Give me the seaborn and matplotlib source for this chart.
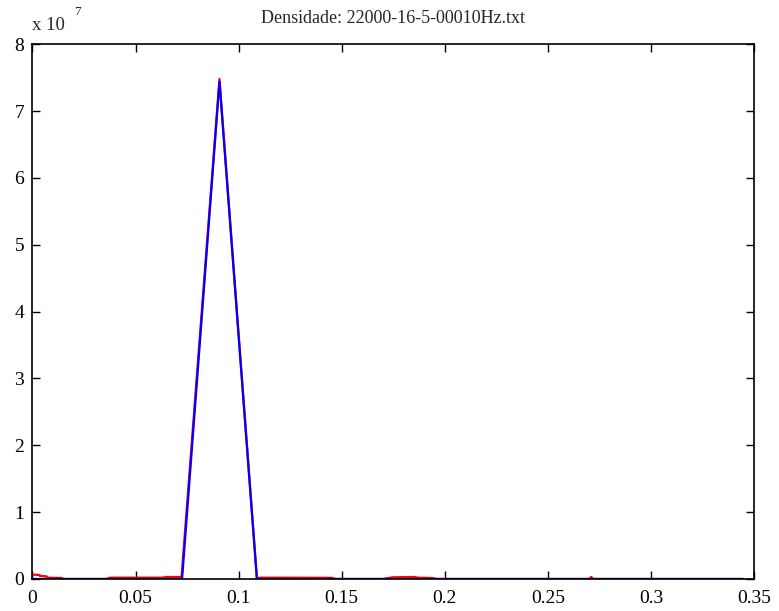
import numpy as np
import pandas as pd
import matplotlib
matplotlib.use("Agg")
import matplotlib.pyplot as plt
import seaborn as sns

# Spectral density of the signal (blue: coarse estimate, red: detailed estimate)
blue_step = 0.01814
blue_x = [blue_step * k for k in range(20)]
blue_y = [0, 0, 0, 0, 0, 7.44e7, 0, 0, 0, 0, 0, 0, 0, 0, 0, 0, 0, 0, 0, 0]

red_x = [0.0, 0.0034, 0.0036, 0.0068, 0.0070, 0.0141, 0.0150, 0.0360, 0.0375,
         0.0630, 0.0650, 0.0723, 0.0907, 0.1089, 0.1100, 0.1450, 0.1470,
         0.1700, 0.1745, 0.1850, 0.1870, 0.1940, 0.1960, 0.2700, 0.2710,
         0.2720, 0.3447]
red_y = [0.065e7, 0.060e7, 0.045e7, 0.040e7, 0.020e7, 0.015e7, 0.0, 0.0, 0.020e7,
         0.020e7, 0.030e7, 0.030e7, 7.48e7, 0.0, 0.020e7, 0.018e7, 0.0,
         0.0, 0.025e7, 0.030e7, 0.020e7, 0.015e7, 0.0, 0.0, 0.03e7,
         0.0, 0.0]

title = "Densidade: 22000-16-5-00010Hz.txt"
x_ticks = [0, 0.05, 0.1, 0.15, 0.2, 0.25, 0.3, 0.35]
x_labels = ["0", "0.05", "0.1", "0.15", "0.2", "0.25", "0.3", "0.35"]
y_ticks = [0, 1e7, 2e7, 3e7, 4e7, 5e7, 6e7, 7e7, 8e7]
y_labels = ["0", "1", "2", "3", "4", "5", "6", "7", "8"]

sns.set_style("ticks")
plt.rcParams["font.family"] = ["Liberation Serif", "DejaVu Serif"]

fig = plt.figure(figsize=(7.79, 6.11), dpi=100)
ax = fig.add_axes([0.0417, 0.0524, 0.9263, 0.8752])

red_df = pd.DataFrame({"f": red_x, "d": red_y})
blue_df = pd.DataFrame({"f": blue_x, "d": blue_y})
sns.lineplot(data=red_df, x="f", y="d", ax=ax, color="#ff0000", linewidth=1.6,
             estimator=None, sort=False)
sns.lineplot(data=blue_df, x="f", y="d", ax=ax, color="#0000ff", linewidth=1.6,
             estimator=None, sort=False)

ax.set_xlim(0, 0.35)
ax.set_ylim(0, 8e7)
ax.set_xticks(x_ticks)
ax.set_xticklabels(x_labels)
ax.set_yticks(y_ticks)
ax.set_yticklabels(y_labels)
ax.set_xlabel("")
ax.set_ylabel("")
ax.tick_params(direction="in", length=5.5, width=1.0, colors="black",
               labelsize=14, top=True, right=True)
ax.tick_params(axis="x", pad=8)
ax.tick_params(axis="y", pad=6)
for s in ax.spines.values():
    s.set_visible(True)
    s.set_color("black")
    s.set_linewidth(1.2)

ax.set_title(title, fontsize=13, pad=15)
fig.text(0.041, 0.959, "x 10", fontsize=13.5, ha="left", va="center")
fig.text(0.095, 0.980, "7", fontsize=9.5, ha="left", va="center")

fig.savefig("out.png", dpi=100, facecolor="white")
